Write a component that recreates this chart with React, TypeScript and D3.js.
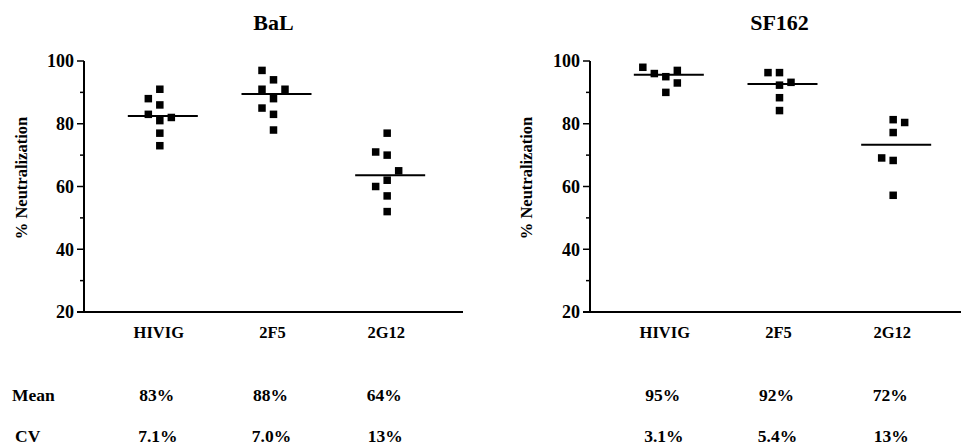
import * as d3 from 'd3';

const categories = ['HIVIG', '2F5', '2G12'];

// BaL panel, % neutralization per serum sample
const balValues = [
	[91, 88, 86, 83, 82, 81, 77, 73],
	[97, 94, 91, 91, 88, 85, 83, 78],
	[77, 71, 70, 65, 62, 60, 57, 52],
];
const balSlots = [
	[0, -1, 0, -1, 1, 0, 0, 0],
	[-1, 0, -1, 1, 0, -1, 0, 0],
	[0, -1, 0, 1, 0, -1, 0, 0],
];
const balMeans = [82.5, 89.5, 63.6];
const balMeanLabels = ['83%', '88%', '64%'];
const balCvLabels = ['7.1%', '7.0%', '13%'];

// SF162 panel
const sfValues = [
	[98, 96, 95, 97, 93, 90],
	[96.3, 96.3, 92.3, 93.2, 88.3, 84.2],
	[81.3, 80.4, 77.2, 69.1, 68.3, 57.2],
];
const sfSlots = [
	[-2, -1, 0, 1, 1, 0],
	[-1, 0, 0, 1, 0, 0],
	[0, 1, 0, -1, 0, 0],
];
const sfMeans = [95.6, 92.7, 73.3];
const sfMeanLabels = ['95%', '92%', '72%'];
const sfCvLabels = ['3.1%', '5.4%', '13%'];

const majorTicks = [20, 40, 60, 80, 100];
const minorTicks = [30, 50, 70, 90];

const width = 961;
const height = 446;
const font = '"Liberation Serif", "Times New Roman", serif';

const y = d3.scaleLinear().domain([20, 100]).range([312, 61]);
const slot = d3.scaleLinear().domain([0, 1]).range([0, 11.5]);

type PanelProps = {
	title: string;
	left: number;
	labelX: number;
	values: number[][];
	slots: number[][];
	means: number[];
	meanLabels: string[];
	cvLabels: string[];
};

function Panel({ title, left, labelX, values, slots, means, meanLabels, cvLabels }: PanelProps) {
	const x = d3
		.scalePoint<string>()
		.domain(categories)
		.range([left, left + 379])
		.padding(0.667);

	return (
		<g fontFamily={font} fontWeight='bold' fill='#000'>
			<text x={x('2F5')} y={30} fontSize={22} textAnchor='middle'>
				{title}
			</text>

			{/* y label */}
			<text
				transform={`translate(${labelX},${178}) rotate(-90)`}
				fontSize={16.5}
				textAnchor='middle'
				dominantBaseline='central'
			>
				% Neutralization
			</text>

			{/* y axis */}
			<line x1={left} x2={left} y1={y(100)} y2={y(20)} stroke='#000' strokeWidth={2} />
			{majorTicks.map((t) => (
				<g key={t}>
					<line x1={left - 7} x2={left} y1={y(t)} y2={y(t)} stroke='#000' strokeWidth={1.5} />
					<text x={left - 10} y={y(t)} dy='0.35em' fontSize={18} textAnchor='end'>
						{t}
					</text>
				</g>
			))}
			{minorTicks.map((t) => (
				<line key={t} x1={left - 4} x2={left} y1={y(t)} y2={y(t)} stroke='#000' strokeWidth={1.5} />
			))}

			{/* x axis */}
			<line x1={left - 7} x2={left + 379} y1={y(20)} y2={y(20)} stroke='#000' strokeWidth={2} />
			{categories.map((c) => (
				<text key={c} x={x(c)! - 1} y={338} fontSize={16.5} textAnchor='middle'>
					{c}
				</text>
			))}

			{/* points */}
			{values.map((vals, i) =>
				vals.map((v, j) => (
					<rect
						key={`${i}-${j}`}
						x={x(categories[i])! + slot(slots[i][j]) - 3.75}
						y={y(v) - 3.75}
						width={7.5}
						height={7.5}
						fill='#000'
					/>
				))
			)}

			{/* mean lines */}
			{means.map((m, i) => (
				<line
					key={i}
					x1={x(categories[i])! - 32}
					x2={x(categories[i])! + 38}
					y1={y(m)}
					y2={y(m)}
					stroke='#000'
					strokeWidth={2}
				/>
			))}

			{/* summary rows */}
			{meanLabels.map((t, i) => (
				<text key={t + i} x={x(categories[i])! - 3} y={401} fontSize={17.5} textAnchor='middle'>
					{t}
				</text>
			))}
			{cvLabels.map((t, i) => (
				<text key={t + i} x={x(categories[i])! - 2} y={442} fontSize={17.5} textAnchor='middle'>
					{t}
				</text>
			))}
		</g>
	);
}

export default function App() {
	return (
		<svg
			width={width}
			height={height}
			style={{ position: 'absolute', left: 0, top: 0, background: '#fff' }}
		>
			<Panel
				title='BaL'
				left={84}
				labelX={21}
				values={balValues}
				slots={balSlots}
				means={balMeans}
				meanLabels={balMeanLabels}
				cvLabels={balCvLabels}
			/>
			<Panel
				title='SF162'
				left={590}
				labelX={526}
				values={sfValues}
				slots={sfSlots}
				means={sfMeans}
				meanLabels={sfMeanLabels}
				cvLabels={sfCvLabels}
			/>
			<g fontFamily={font} fontWeight='bold' fontSize={17.5}>
				<text x={12} y={401}>Mean</text>
				<text x={15} y={442}>CV</text>
			</g>
		</svg>
	);
}
